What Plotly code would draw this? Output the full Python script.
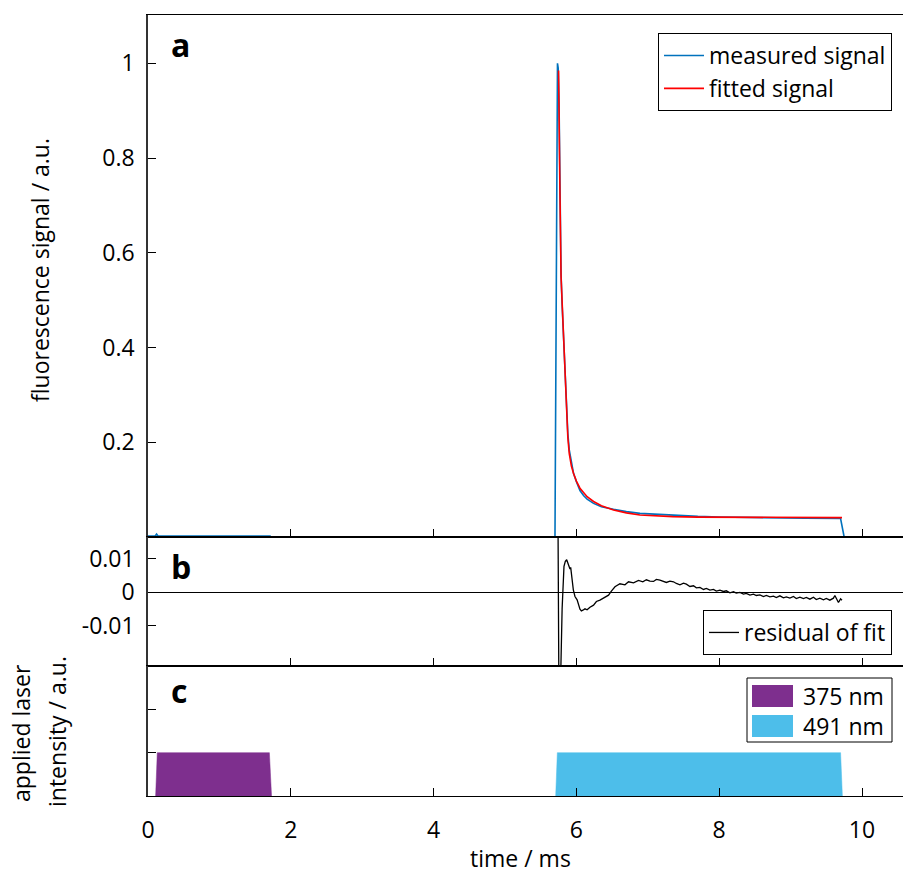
import plotly.graph_objects as go

# ---------------- data ----------------
# panel a: measured fluorescence signal
meas_t = [0.0, 0.10, 0.12, 0.14, 1.71, 1.72, 5.70, 5.735, 5.745, 5.757, 5.77, 5.785, 5.80,
          5.82, 5.84, 5.86, 5.88, 5.90, 5.93, 5.96, 6.00, 6.05, 6.10, 6.15, 6.24, 6.35,
          6.52, 6.70, 6.89, 7.10, 7.35, 7.70, 8.00, 8.29, 8.70, 9.20, 9.70, 9.75, 10.0]
meas_v = [0.002, 0.002, 0.006, 0.002, 0.002, 0.0, 0.0, 1.0, 0.99, 0.915, 0.73, 0.555, 0.49,
          0.415, 0.343, 0.275, 0.219, 0.184, 0.154, 0.1345, 0.1165, 0.098, 0.0875, 0.080, 0.071, 0.064,
          0.0585, 0.0535, 0.0499, 0.048, 0.046, 0.0435, 0.0423, 0.0414, 0.0399, 0.0395, 0.039, 0.0, 0.0]

# panel a: fitted signal
fit_t = [5.750, 5.757, 5.770, 5.785, 5.800, 5.820, 5.840, 5.860, 5.880, 5.900, 5.930, 5.960,
         6.000, 6.050, 6.100, 6.150, 6.240, 6.350, 6.520, 6.700, 6.890, 7.100, 7.350, 7.700,
         8.000, 8.290, 8.700, 9.200, 9.720]
fit_v = [0.985, 0.920, 0.720, 0.550, 0.490, 0.410, 0.335, 0.265, 0.210, 0.176, 0.150, 0.134,
         0.118, 0.103, 0.093, 0.085, 0.075, 0.066, 0.057, 0.051, 0.0465, 0.0445, 0.043, 0.042,
         0.0418, 0.0415, 0.0413, 0.0411, 0.041]

# panel b: residual of fit
res_t = [5.74, 5.755, 5.775, 5.80, 5.826, 5.845, 5.864, 5.88, 5.90, 5.91, 5.92, 5.93, 5.957, 5.98,
         6.01, 6.05, 6.07, 6.09, 6.12, 6.15, 6.19, 6.24, 6.28, 6.33, 6.38, 6.45, 6.49, 6.54, 6.61,
         6.68, 6.73, 6.80, 6.87, 6.93, 6.98, 7.03, 7.08, 7.12, 7.17, 7.22, 7.26, 7.31, 7.36, 7.40,
         7.45, 7.50, 7.54, 7.59, 7.64, 7.68, 7.73, 7.78, 7.82, 7.87, 7.92, 7.96, 8.01, 8.06, 8.10,
         8.15, 8.20, 8.24, 8.29, 8.34, 8.38, 8.43, 8.48, 8.52, 8.57, 8.62, 8.66, 8.71, 8.76, 8.80,
         8.85, 8.90, 8.94, 8.99, 9.04, 9.08, 9.13, 9.18, 9.22, 9.27, 9.32, 9.36, 9.41, 9.46, 9.50,
         9.55, 9.60, 9.62, 9.65, 9.67, 9.70, 9.72]
res_v = [0.030, -0.030, -0.030, -0.005, 0.0077, 0.0092, 0.0097, 0.0088, 0.0080, 0.0069, 0.0074,
         0.0050, 0.0007, -0.0013, -0.0023, -0.0051, -0.0056, -0.0054, -0.0050, -0.0053, -0.0045,
         -0.0039, -0.0028, -0.0024, -0.0017, -0.0009, 0.0003, 0.0016, 0.0025, 0.0022, 0.0031,
         0.0028, 0.0035, 0.0031, 0.0037, 0.0033, 0.0032, 0.0038, 0.0036, 0.0031, 0.0029, 0.0033,
         0.0031, 0.0026, 0.0022, 0.0027, 0.0024, 0.0017, 0.0019, 0.0013, 0.0014, 0.0008, 0.0011,
         0.0006, 0.0008, 0.0003, 0.0006, 0.0002, 0.0004, -0.0002, 0.0001, -0.0003, -0.0001,
         -0.0006, -0.0004, -0.0009, -0.0006, -0.0010, -0.0008, -0.0013, -0.0010, -0.0014, -0.0012,
         -0.0016, -0.0011, -0.0017, -0.0014, -0.0018, -0.0013, -0.0019, -0.0015, -0.0019, -0.0016,
         -0.0021, -0.0015, -0.0022, -0.0018, -0.0023, -0.0019, -0.0024, -0.0018, -0.0010, -0.0024,
         -0.0031, -0.0020, -0.0024]

# panel c: applied laser pulses (trapezoids)
uv_t = [0.107, 0.13, 1.70, 1.73]
uv_v = [0, 1, 1, 0]
blue_t = [5.71, 5.733, 9.70, 9.725]
blue_v = [0, 1, 1, 0]

x_ticks = [0, 2, 4, 6, 8, 10]
a_ticks = [0.2, 0.4, 0.6, 0.8, 1]
a_ticklabels = ["0.2", "0.4", "0.6", "0.8", "1"]
b_ticks = [-0.01, 0, 0.01]
b_ticklabels = ["-0.01", "0", "0.01"]
c_ticks = [1, 2]

# ---------------- layout helpers ----------------
W, H = 903, 873
L, T, R, B = 148, 15, 903, 796
PW, PH = R - L, B - T


def px(xp):
    return (xp - L) / PW


def py(yp):
    return (B - yp) / PH


FONT = "Open Sans"
FS = 23
C_MEAS = "#0072BD"
C_FIT = "#FF0000"
C_UV = "#7E2F8E"
C_BLUE = "#4DBEEA"

dom_a = [py(537), 1.0]
dom_b = [py(666), py(537)]
dom_c = [0.0, py(666)]

fig = go.Figure()
fig.add_trace(go.Scatter(x=meas_t, y=meas_v, mode="lines", name="measured signal",
                         line=dict(color=C_MEAS, width=1.6), xaxis="x", yaxis="y", legend="legend"))
fig.add_trace(go.Scatter(x=fit_t, y=fit_v, mode="lines", name="fitted signal",
                         line=dict(color=C_FIT, width=1.6), xaxis="x", yaxis="y", legend="legend"))
fig.add_trace(go.Scatter(x=res_t, y=res_v, mode="lines", name="residual of fit",
                         line=dict(color="black", width=1.3), xaxis="x2", yaxis="y2", legend="legend2"))
fig.add_trace(go.Scatter(x=uv_t, y=uv_v, mode="lines", name="375 nm", fill="toself",
                         fillcolor=C_UV, line=dict(color=C_UV, width=0.5), xaxis="x3", yaxis="y3",
                         showlegend=False))
fig.add_trace(go.Scatter(x=blue_t, y=blue_v, mode="lines", name="491 nm", fill="toself",
                         fillcolor=C_BLUE, line=dict(color=C_BLUE, width=0.5), xaxis="x3", yaxis="y3",
                         showlegend=False))

XR = [0, (R - L) / 71.4]
common_x = dict(range=XR, tickvals=x_ticks, ticks="inside", ticklen=8, tickcolor="black",
                showline=True, linecolor="black", linewidth=1, mirror=True, showgrid=False,
                zeroline=False, layer="above traces")
common_y = dict(ticks="inside", ticklen=8, tickcolor="black", showline=True, linecolor="#333",
                linewidth=1.5, showgrid=False, tickfont=dict(size=FS, color="black", family=FONT),
                ticklabelstandoff=7)

fig.update_layout(
    width=W, height=H,
    margin=dict(l=L, r=W - R, t=T, b=H - B),
    paper_bgcolor="white", plot_bgcolor="white",
    font=dict(family=FONT, size=FS, color="black"),
    xaxis=dict(common_x, anchor="y", showticklabels=False),
    xaxis2=dict(common_x, anchor="y2", showticklabels=False, matches="x"),
    xaxis3=dict(common_x, anchor="y3", showticklabels=True, matches="x",
                tickfont=dict(size=FS, color="black", family=FONT), ticklabelstandoff=13),
    yaxis=dict(common_y, domain=dom_a, range=[0, 1.102], tickvals=a_ticks, ticktext=a_ticklabels,
               zeroline=False),
    yaxis2=dict(common_y, domain=dom_b, range=[-0.0221, 0.0165], tickvals=b_ticks,
                ticktext=b_ticklabels, zeroline=True, zerolinecolor="black", zerolinewidth=1),
    yaxis3=dict(common_y, domain=dom_c, range=[0, 3], tickvals=c_ticks, showticklabels=False,
                zeroline=False),
    legend=dict(x=px(892), y=py(33), xanchor="right", yanchor="top", bgcolor="white",
                bordercolor="black", borderwidth=1, font=dict(size=FS, family=FONT),
                itemwidth=40, tracegroupgap=0),
    legend2=dict(x=px(892), y=py(610), xanchor="right", yanchor="top", bgcolor="white",
                 bordercolor="black", borderwidth=1, font=dict(size=FS, family=FONT),
                 itemwidth=30),
    showlegend=True,
)

# manual legend for panel c (filled swatches)
shapes = [
    dict(type="rect", xref="paper", yref="paper", x0=px(747), x1=px(892), y0=py(742), y1=py(678),
         line=dict(color="black", width=1), fillcolor="white", layer="above"),
    dict(type="rect", xref="paper", yref="paper", x0=px(752), x1=px(793), y0=py(707), y1=py(685),
         line=dict(width=0), fillcolor=C_UV, layer="above"),
    dict(type="rect", xref="paper", yref="paper", x0=px(752), x1=px(793), y0=py(737), y1=py(715),
         line=dict(width=0), fillcolor=C_BLUE, layer="above"),
]
fig.update_layout(shapes=shapes)

ann = []
for txt, yc in [("375 nm", 696), ("491 nm", 726)]:
    ann.append(dict(text=txt, xref="paper", yref="paper", x=px(801), y=py(yc), xanchor="left",
                    yanchor="middle", showarrow=False, font=dict(size=FS, family=FONT)))
for lab, yc in [("a", 44), ("b", 566), ("c", 690)]:
    ann.append(dict(text="<b>%s</b>" % lab, xref="paper", yref="paper", x=px(169), y=py(yc),
                    xanchor="left", yanchor="middle", showarrow=False,
                    font=dict(size=32, family=FONT, color="black")))
ann.append(dict(text="fluorescence signal / a.u.", xref="paper", yref="paper", x=px(40), y=py(270),
                xanchor="center", yanchor="middle", textangle=-90, showarrow=False,
                font=dict(size=FS, family=FONT)))
ann.append(dict(text="applied laser", xref="paper", yref="paper", x=px(21), y=py(733),
                xanchor="center", yanchor="middle", textangle=-90, showarrow=False,
                font=dict(size=FS, family=FONT)))
ann.append(dict(text="intensity / a.u.", xref="paper", yref="paper", x=px(57), y=py(732),
                xanchor="center", yanchor="middle", textangle=-90, showarrow=False,
                font=dict(size=FS, family=FONT)))
ann.append(dict(text="time / ms", xref="paper", yref="paper", x=px(520), y=py(858),
                xanchor="center", yanchor="middle", showarrow=False,
                font=dict(size=FS, family=FONT)))
fig.update_layout(annotations=ann)

fig.write_html("out.html")
